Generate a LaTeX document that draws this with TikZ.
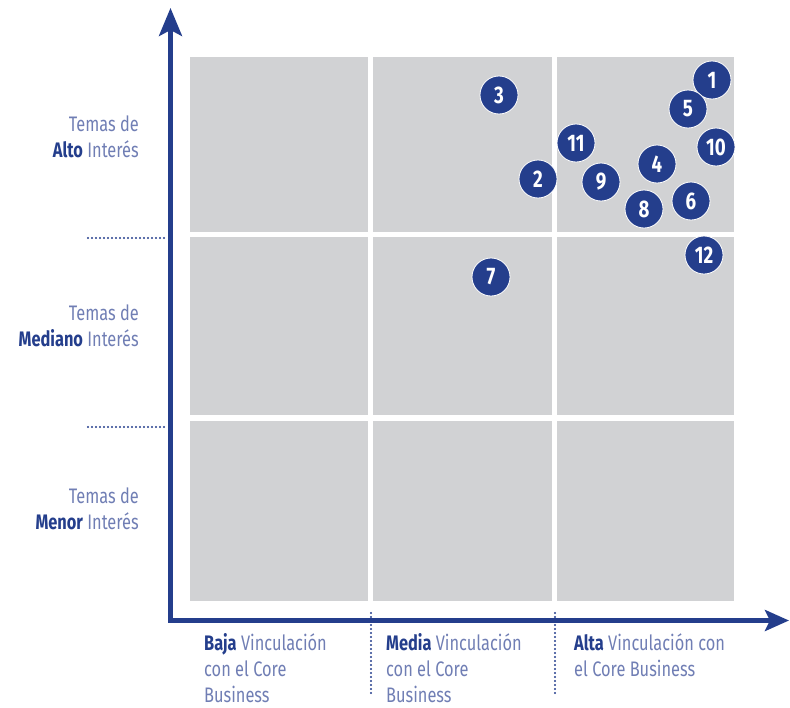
\documentclass[tikz,border=0pt]{standalone}
\usepackage{fontspec}
\setmainfont{Fira Sans}[FakeStretch=0.78]
\usetikzlibrary{arrows.meta}

\definecolor{navy}{RGB}{36,62,140}
\definecolor{soft}{RGB}{112,126,180}
\definecolor{cell}{RGB}{209,210,212}

\tikzset{
	tema/.style={font=\fontsize{21}{26}\selectfont, text=soft, align=right, anchor=east, inner sep=0pt},
	vinc/.style={font=\fontsize{21}{26}\selectfont, text=soft, align=left, anchor=north west, inner sep=0pt},
	punto/.style={circle, fill=navy, draw=white, line width=0.8pt, minimum size=38pt, inner sep=0pt, text=white, font=\fontsize{24}{24}\selectfont\bfseries},
	guia/.style={navy, line width=2.4pt, dash pattern=on 0pt off 4pt, line cap=round},
	eje/.style={navy, line width=4.5pt, line join=miter},
}
\newcommand{\clave}[1]{\textbf{\color{navy}#1}}

\begin{document}
\begin{tikzpicture}[x=1pt, y=-1pt]
		\useasboundingbox (0,0) rectangle (790,707);
		
		% cuadrantes
		\foreach \xa/\xb in {190/368, 373/552, 557/734}{
			\foreach \ya/\yb in {57/232, 237/415, 421/601}{
				\fill[cell] (\xa,\ya) rectangle (\xb,\yb);
			}
		}
		
		% ejes
		\coordinate (o) at (170.5,620.5);
		\coordinate (ytip) at (170.5,8);
		\coordinate (xtip) at (789,620.5);
		\draw[eje, {Stealth[length=28pt,width=23pt,inset=6pt]}-{Stealth[length=24pt,width=21pt,inset=5pt]}] (ytip) -- (o) -- (xtip);
		
		% guias punteadas
		\coordinate (h1a) at (88,238);  \coordinate (h1b) at (164,238);
		\coordinate (h2a) at (88,427);  \coordinate (h2b) at (164,427);
		\coordinate (v1a) at (371,613); \coordinate (v1b) at (371,693);
		\coordinate (v2a) at (555,613); \coordinate (v2b) at (555,693);
		\draw[guia] (h1a) -- (h1b);
		\draw[guia] (h2a) -- (h2b);
		\draw[guia] (v1a) -- (v1b);
		\draw[guia] (v2a) -- (v2b);
		
		% etiquetas eje vertical
		\node[tema] (alto) at (139,136.5) {Temas de\\\clave{Alto} Interés};
		\node[tema] (mediano) at (139,325.5) {Temas de\\\clave{Mediano} Interés};
		\node[tema] (menor) at (139,508.5) {Temas de\\\clave{Menor} Interés};
		
		% etiquetas eje horizontal
		\node[vinc] (baja) at (204,633) {\clave{Baja} Vinculación\\con el Core\\Business};
		\node[vinc] (media) at (386,633) {\clave{Media} Vinculación\\con el Core\\Business};
		\node[vinc] (alta) at (574,633) {\clave{Alta} Vinculación con\\el Core Business};
		
		% temas
		\foreach \n/\x/\y in {1/712/80, 2/538/179, 3/499/95, 4/657/164, 5/688/109, 6/691/201,
			7/491/277, 8/644/209, 9/601/182, 10/716/147, 11/576/143, 12/704/255}{
			\node[punto] (p\n) at (\x,\y) {\n};
		}
\end{tikzpicture}
\end{document}
